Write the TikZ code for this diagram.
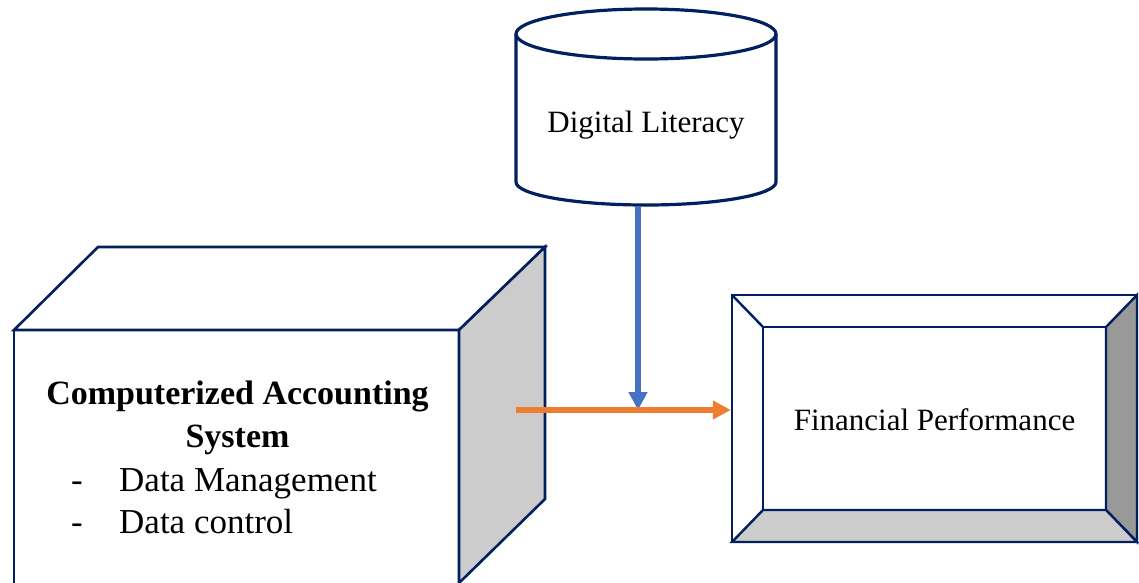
\documentclass[tikz,border=0pt]{standalone}
\usepackage{fontspec}
\setmainfont{Liberation Serif}
\usetikzlibrary{arrows.meta}
\definecolor{navy}{HTML}{002060}
\definecolor{lgray}{HTML}{CCCCCC}
\definecolor{dgray}{HTML}{999999}
\definecolor{aorange}{HTML}{ED7D31}
\definecolor{ablue}{HTML}{4472C4}
\tikzset{
  outline/.style={draw=navy, line width=2.6pt, line join=miter},
  txt/.style={font=\fontsize{31}{37}\selectfont, inner sep=0pt},
  bigtxt/.style={font=\fontsize{35}{42}\selectfont, inner sep=0pt, anchor=base west},
  conn/.style={line width=6pt, -{Triangle[length=18pt,width=18pt]}}
}
\begin{document}
\begin{tikzpicture}[x=1pt,y=-1pt]
\useasboundingbox (0,0) rectangle (1139,582);
\clip (0,0) rectangle (1139,582);
% cube
\filldraw[outline, fill=white] (14,330) -- (98,247) -- (545,247) -- (459,330) -- cycle;
\filldraw[outline, fill=lgray] (459,330) -- (545,247) -- (545,499) -- (459,583) -- cycle;
\draw[outline] (14,620) -- (14,330) -- (459,330) -- (459,620);
\node[txt, anchor=base, font=\fontsize{34}{40}\selectfont\bfseries] (cas1) at (237.5,404) {Computerized Accounting};
\node[txt, anchor=base, font=\fontsize{34}{40}\selectfont\bfseries] (cas2) at (237.5,447) {System};
\node[bigtxt] (b1) at (71,491) {-};
\node[bigtxt] (dm) at (119,491) {Data Management};
\node[bigtxt] (b2) at (71,533) {-};
\node[bigtxt] (dc) at (119,533) {Data control};
% cylinder
\draw[outline, line width=3.2pt, fill=white] (516,34) -- (516,182) arc[start angle=180, end angle=0, x radius=130, y radius=23] -- (776,34);
\draw[outline, line width=3.2pt] (646,34) ellipse[x radius=130, y radius=25];
\node[txt, anchor=base] (dl) at (646,132) {Digital Literacy};
\coordinate (dlb) at (638,206);
% financial performance box
\node[draw=navy, line width=2.4pt, minimum width=405pt, minimum height=247pt, inner sep=0pt] (fp) at (934.5,418.5) {};
\filldraw[fill=dgray, draw=navy, line width=2.4pt] (1106,327) -- (1137,295) -- (1137,542) -- (1106,510) -- cycle;
\filldraw[fill=lgray, draw=navy, line width=2.4pt] (763,510) -- (1106,510) -- (1137,542) -- (732,542) -- cycle;
\draw[navy, line width=2.4pt] (732,295) -- (763,327);
\draw[navy, line width=2.4pt] (763,327) rectangle (1106,510);
\node[txt, anchor=base] (fpt) at (934.5,430) {Financial Performance};
% connectors
\coordinate (cs) at (516,410);
\coordinate (j) at (638,410);
\draw[conn, ablue] (dlb) -- (j);
\draw[conn, aorange] (cs) -- (fp.west |- cs);
\end{tikzpicture}
\end{document}
